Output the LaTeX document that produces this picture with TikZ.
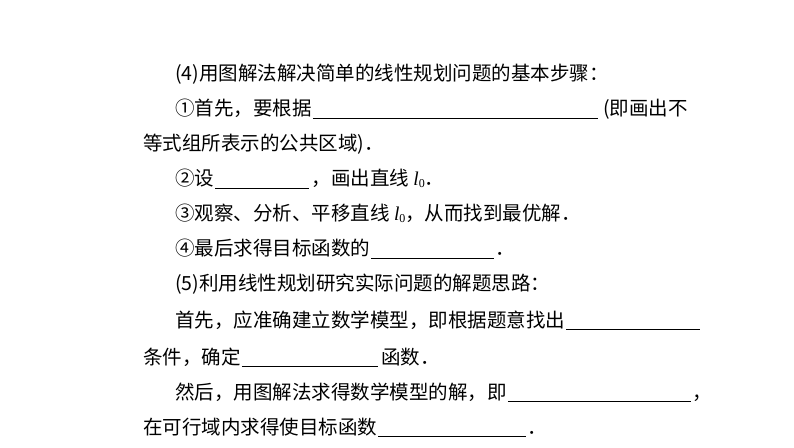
\documentclass[tikz,border=0pt]{standalone}
\usepackage{fontspec}
\setmainfont{Liberation Serif}
\newfontfamily\cjk{Noto Sans CJK SC}
\newcommand{\lzero}{{\fontspec{Liberation Serif}\itshape l}\raisebox{-2pt}{\fontsize{12}{12}\selectfont\fontspec{Liberation Serif}0}}
\begin{document}
\begin{tikzpicture}[x=1pt,y=1pt,
  txt/.style={anchor=base west,inner sep=0pt,font=\cjk\fontsize{19.5}{23}\selectfont},
  blank/.style={line width=0.8pt}]
\useasboundingbox (0,0) rectangle (794,447);
\fill[white] (0,0) rectangle (794,447);
% line 1
\node[txt] (t1) at (175,366) {(4)用图解法解决简单的线性规划问题的基本步骤：};
% line 2
\node[txt] (t2a) at (175,331) {①首先，要根据};
\coordinate (u2a) at ([xshift=1pt,yshift=-2pt]t2a.base east); \coordinate (u2b) at ([xshift=285pt]u2a);
\draw[blank] (u2a) -- (u2b);
\node[txt] (t2b) at ([xshift=5pt,yshift=2pt]u2b) {(即画出不};
% line 3
\node[txt] (t3) at (143,296) {等式组所表示的公共区域)．};
% line 4
\node[txt] (t4a) at (175,261) {②设};
\coordinate (u4a) at ([xshift=1pt,yshift=-2pt]t4a.base east); \coordinate (u4b) at ([xshift=94pt]u4a);
\draw[blank] (u4a) -- (u4b);
\node[txt] (t4b) at ([xshift=2pt,yshift=2pt]u4b) {，画出直线 \lzero．};
% line 5
\node[txt] (t5) at (175,226) {③观察、分析、平移直线 \lzero，从而找到最优解．};
% line 6
\node[txt] (t6a) at (175,191) {④最后求得目标函数的};
\coordinate (u6a) at ([xshift=1pt,yshift=-2pt]t6a.base east); \coordinate (u6b) at ([xshift=123pt]u6a);
\draw[blank] (u6a) -- (u6b);
\node[txt] (t6b) at ([xshift=1pt,yshift=2pt]u6b) {．};
% line 7
\node[txt] (t7) at (175,156) {(5)利用线性规划研究实际问题的解题思路：};
% line 8
\node[txt] (t8) at (175,120) {首先，应准确建立数学模型，即根据题意找出};
\coordinate (u8a) at ([xshift=1pt,yshift=-2pt]t8.base east); \coordinate (u8b) at ([xshift=134pt]u8a);
\draw[blank] (u8a) -- (u8b);
% line 9
\node[txt] (t9a) at (143,83) {条件，确定};
\coordinate (u9a) at ([xshift=1pt,yshift=-2pt]t9a.base east); \coordinate (u9b) at ([xshift=136pt]u9a);
\draw[blank] (u9a) -- (u9b);
\node[txt] (t9b) at ([xshift=3pt,yshift=2pt]u9b) {函数．};
% line 10
\node[txt] (t10a) at (175,48) {然后，用图解法求得数学模型的解，即};
\coordinate (u10a) at ([xshift=1pt,yshift=-2pt]t10a.base east); \coordinate (u10b) at ([xshift=183pt]u10a);
\draw[blank] (u10a) -- (u10b);
\node[txt] (t10b) at ([xshift=1pt,yshift=2pt]u10b) {，};
% line 11
\node[txt] (t11a) at (143,13) {在可行域内求得使目标函数};
\coordinate (u11a) at ([xshift=1pt,yshift=-2pt]t11a.base east); \coordinate (u11b) at ([xshift=148pt]u11a);
\draw[blank] (u11a) -- (u11b);
\node[txt] (t11b) at ([xshift=1pt,yshift=2pt]u11b) {．};
\end{tikzpicture}
\end{document}
